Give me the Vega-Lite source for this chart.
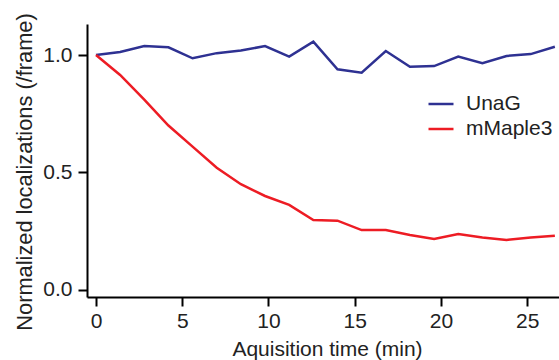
{
  "$schema": "https://vega.github.io/schema/vega-lite/v6.json",
  "autosize": {"type": "none"},
  "padding": {"left": 87, "top": 24, "right": 0, "bottom": 63},
  "width": 472,
  "height": 273,
  "background": "white",
  "config": {
    "view": {"stroke": null},
    "font": "Liberation Sans",
    "axis": {
      "grid": false,
      "domainColor": "black",
      "domainWidth": 2,
      "tickColor": "black",
      "tickWidth": 2,
      "tickSize": 9,
      "labelFont": "Liberation Sans",
      "labelFontSize": 21,
      "labelColor": "#222",
      "titleFont": "Liberation Sans",
      "titleFontSize": 21,
      "titleFontWeight": "normal",
      "titleColor": "#222"
    }
  },
  "data": {
    "values": [
      {"t": 0.0, "v": 1.0, "s": "UnaG"},
      {"t": 1.4, "v": 1.013, "s": "UnaG"},
      {"t": 2.8, "v": 1.038, "s": "UnaG"},
      {"t": 4.2, "v": 1.033, "s": "UnaG"},
      {"t": 5.6, "v": 0.986, "s": "UnaG"},
      {"t": 7.0, "v": 1.008, "s": "UnaG"},
      {"t": 8.4, "v": 1.019, "s": "UnaG"},
      {"t": 9.8, "v": 1.038, "s": "UnaG"},
      {"t": 11.2, "v": 0.993, "s": "UnaG"},
      {"t": 12.6, "v": 1.057, "s": "UnaG"},
      {"t": 14.0, "v": 0.939, "s": "UnaG"},
      {"t": 15.4, "v": 0.925, "s": "UnaG"},
      {"t": 16.8, "v": 1.017, "s": "UnaG"},
      {"t": 18.2, "v": 0.950, "s": "UnaG"},
      {"t": 19.6, "v": 0.953, "s": "UnaG"},
      {"t": 21.0, "v": 0.993, "s": "UnaG"},
      {"t": 22.4, "v": 0.965, "s": "UnaG"},
      {"t": 23.8, "v": 0.996, "s": "UnaG"},
      {"t": 25.2, "v": 1.004, "s": "UnaG"},
      {"t": 26.6, "v": 1.035, "s": "UnaG"},
      {"t": 0.0, "v": 1.0, "s": "mMaple3"},
      {"t": 1.4, "v": 0.915, "s": "mMaple3"},
      {"t": 2.8, "v": 0.81, "s": "mMaple3"},
      {"t": 4.2, "v": 0.70, "s": "mMaple3"},
      {"t": 5.6, "v": 0.61, "s": "mMaple3"},
      {"t": 7.0, "v": 0.52, "s": "mMaple3"},
      {"t": 8.4, "v": 0.45, "s": "mMaple3"},
      {"t": 9.8, "v": 0.40, "s": "mMaple3"},
      {"t": 11.2, "v": 0.362, "s": "mMaple3"},
      {"t": 12.6, "v": 0.298, "s": "mMaple3"},
      {"t": 14.0, "v": 0.295, "s": "mMaple3"},
      {"t": 15.4, "v": 0.255, "s": "mMaple3"},
      {"t": 16.8, "v": 0.255, "s": "mMaple3"},
      {"t": 18.2, "v": 0.234, "s": "mMaple3"},
      {"t": 19.6, "v": 0.217, "s": "mMaple3"},
      {"t": 21.0, "v": 0.238, "s": "mMaple3"},
      {"t": 22.4, "v": 0.223, "s": "mMaple3"},
      {"t": 23.8, "v": 0.213, "s": "mMaple3"},
      {"t": 25.2, "v": 0.223, "s": "mMaple3"},
      {"t": 26.6, "v": 0.231, "s": "mMaple3"}
    ]
  },
  "mark": {"type": "line", "strokeWidth": 2.5, "clip": true},
  "encoding": {
    "x": {
      "field": "t",
      "type": "quantitative",
      "scale": {"domain": [-0.52, 26.84], "nice": false, "zero": false},
      "axis": {"values": [0, 5, 10, 15, 20, 25], "title": "Aquisition time (min)", "labelPadding": 4, "titleX": 240, "titleY": 58, "titleBaseline": "alphabetic"}
    },
    "y": {
      "field": "v",
      "type": "quantitative",
      "scale": {"domain": [-0.03, 1.132], "nice": false, "zero": false},
      "axis": {"values": [0, 0.5, 1.0], "format": ".1f", "title": "Normalized localizations (/frame)", "labelPadding": 6, "titleFontSize": 21.8, "titleX": -55.3, "titleY": 147.5, "titleBaseline": "alphabetic"}
    },
    "color": {
      "field": "s",
      "type": "nominal",
      "scale": {"domain": ["UnaG", "mMaple3"], "range": ["#2e3192", "#ed1c24"]},
      "legend": {
        "title": null,
        "orient": "none",
        "legendX": 340,
        "legendY": 66,
        "symbolType": "stroke",
        "symbolSize": 625,
        "symbolStrokeWidth": 2.5,
        "labelFontSize": 21,
        "labelFont": "Liberation Sans",
        "labelColor": "#222",
        "labelOffset": 11,
        "rowPadding": 1
      }
    }
  }
}
